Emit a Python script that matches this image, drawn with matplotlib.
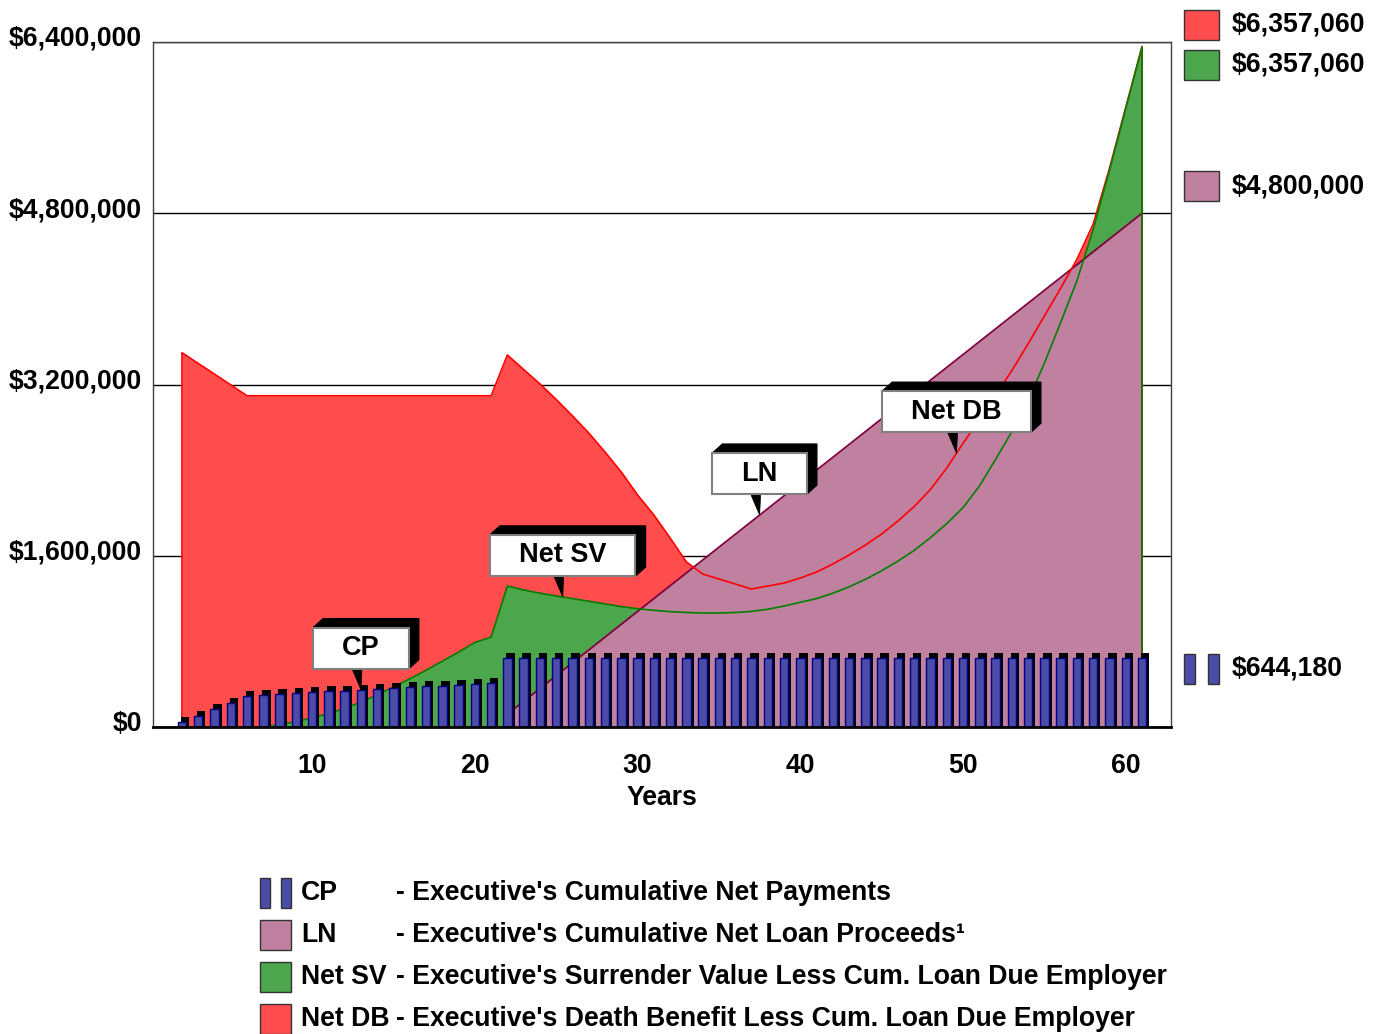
import matplotlib
matplotlib.use('Agg')
from matplotlib import pyplot as plt
from matplotlib import transforms
from matplotlib.patches import Polygon, Rectangle
import numpy as np

plt.rcParams['font.family'] = ['Liberation Sans', 'DejaVu Sans']
plt.rcParams['font.weight'] = 'bold'

# policy years shown on the chart
years = list(range(2, 62))

# CP - cumulative net payments
cum_payments = [45000, 106000, 167000, 228000, 290000, 299000, 308000, 318000, 324000, 334000,
                339000, 349000, 355000, 364000, 374000, 380000, 386000, 395000, 402000, 411000] + [644180] * 40

# LN - cumulative net loan proceeds (years 22-61)
loan_years = list(range(22, 62))
net_loan = [120000, 240000, 360000, 480000, 600000, 720000, 840000, 960000, 1080000, 1200000,
            1320000, 1440000, 1560000, 1680000, 1800000, 1920000, 2040000, 2160000, 2280000, 2400000,
            2520000, 2640000, 2760000, 2880000, 3000000, 3120000, 3240000, 3360000, 3480000, 3600000,
            3720000, 3840000, 3960000, 4080000, 4200000, 4320000, 4440000, 4560000, 4680000, 4800000]

# Net SV - surrender value less cumulative loan (years 7-61)
sv_years = list(range(7, 62))
net_sv = [0, 22000, 50000, 85000, 125000, 175000, 232000, 300000, 375000, 450000,
          530000, 615000, 700000, 790000, 840000,
          1317000, 1280000, 1250000, 1225000, 1200000, 1175000, 1150000, 1125000, 1105000, 1090000,
          1078000, 1070000, 1065000, 1065000, 1070000, 1080000, 1100000, 1130000, 1165000, 1200000,
          1250000, 1310000, 1380000, 1460000, 1550000, 1650000, 1770000, 1900000, 2050000, 2250000,
          2500000, 2760000, 3050000, 3400000, 3780000, 4170000, 4650000, 5200000, 5780000, 6357060]

# Net DB - death benefit less cumulative loan (years 2-61)
net_db = [3497000, 3397000, 3297000, 3196000, 3095000, 3095000, 3095000, 3095000, 3095000, 3095000,
          3095000, 3095000, 3095000, 3095000, 3095000, 3095000, 3095000, 3095000, 3095000, 3095000,
          3476000, 3340000, 3205000, 3060000, 2906000, 2747000, 2569000, 2382000, 2168000, 1981000,
          1766000, 1542000, 1429000, 1383000, 1336000, 1289000, 1317000, 1345000, 1392000, 1448000,
          1523000, 1607000, 1700000, 1803000, 1925000, 2060000, 2220000, 2420000, 2650000, 2870000,
          3100000, 3330000, 3580000, 3840000, 4100000, 4370000, 4700000, 5220000, 5790000, 6357060]

y_ticks = [0, 1600000, 3200000, 4800000, 6400000]
x_ticks = [10, 20, 30, 40, 50, 60]

W, H = 1383, 1034
FS = 19.2
RED, RED_LINE = '#FF4D4D', '#FF0000'
GREEN, GREEN_LINE = '#4CA64C', '#008000'
PINK, PINK_LINE = '#C080A0', '#800040'
BLUE, BLUE_EDGE = '#4B4BA8', '#000080'


def px(x, y):
    return x / W, 1 - y / H


fig = plt.figure(figsize=(W / 100, H / 100), dpi=100)
ax = fig.add_axes([153 / W, 1 - 727 / H, (1171 - 153) / W, (727 - 42) / H])
ax.set_xlim(0.22, 62.78)
ax.set_ylim(0, 6400000)

ax.yaxis.grid(True, color='black', lw=1)
ax.set_axisbelow(True)

# stacked areas: death benefit, surrender value, loan
ax.fill_between(years, net_db, color=RED, lw=0, zorder=2)
ax.fill_between(sv_years, net_sv, color=GREEN, lw=0, zorder=3)
ax.fill_between(loan_years, net_loan, color=PINK, lw=0, zorder=4)
ax.plot([loan_years[0]] + loan_years + [loan_years[-1]], [0] + net_loan + [0],
        color=PINK_LINE, lw=1.3, zorder=4.5)
ax.plot([years[0]] + years + [years[-1]], [0] + net_db + [0], color=RED_LINE, lw=1.2, zorder=5)
ax.plot(sv_years + [sv_years[-1]], net_sv + [0], color=GREEN_LINE, lw=1.2, zorder=5)

# 3-D style payment bars: black block shifted up/right behind each bar
shadow_tr = transforms.offset_copy(ax.transData, fig=fig, x=3, y=5, units='dots')
ax.bar(years, [v + 100000 for v in cum_payments], bottom=-100000, width=0.52,
       color='black', lw=0, transform=shadow_tr, zorder=6)
ax.bar(years, cum_payments, width=0.52, color=BLUE, edgecolor=BLUE_EDGE, lw=1, zorder=6.1)

ax.set_yticks(y_ticks)
ax.set_yticklabels(['${:,}'.format(v) for v in y_ticks], fontsize=FS)
ax.set_xticks(x_ticks)
ax.set_xticklabels([str(v) for v in x_ticks], fontsize=FS)
ax.tick_params(length=0)
ax.tick_params(axis='y', pad=8)
ax.tick_params(axis='x', pad=19)
lift = transforms.ScaledTranslation(0, 6 / 100, fig.dpi_scale_trans)
for lab in ax.get_yticklabels():
    lab.set_transform(lab.get_transform() + lift)
ax.set_xlabel('Years', fontsize=FS, fontweight='bold', labelpad=4)

for side in ['left', 'top', 'right']:
    ax.spines[side].set_color('#404040')
    ax.spines[side].set_linewidth(1)
ax.spines['bottom'].set_linewidth(2)
ax.spines['bottom'].set_zorder(8)

# callout labels
renderer = fig.canvas.get_renderer()
ident = transforms.IdentityTransform()


def callout(x, y, label):
    axx, axy = ax.transData.transform((x, y))
    t = fig.text(0, 0, label, fontsize=19.5, ha='center', va='center', transform=ident, zorder=12)
    tw = t.get_window_extent(renderer).width
    L, R = axx - tw / 2 - 29, axx + tw / 2 + 29
    B = axy + 21
    T = B + 41
    dx, dy = 10, 9
    fig.add_artist(Polygon([(L, T), (L + dx, T + dy), (R + dx, T + dy), (R + dx, B + dy), (R, B), (L, B)],
                           closed=True, facecolor='black', edgecolor='black', transform=ident, zorder=10))
    fig.add_artist(Rectangle((L, B), R - L, T - B, facecolor='white', edgecolor='#808080', lw=1.5,
                             transform=ident, zorder=11))
    fig.add_artist(Polygon([(axx - 9, B), (axx + 1, B), (axx, axy)], closed=True,
                           facecolor='black', edgecolor='black', lw=0.5, transform=ident, zorder=10))
    t.set_position((axx, (B + T) / 2))


callout(13, cum_payments[years.index(13)], 'CP')
callout(25.4, np.interp(25.4, sv_years, net_sv), 'Net SV')
callout(37.5, np.interp(37.5, loan_years, net_loan), 'LN')
callout(49.6, np.interp(49.6, years, net_db), 'Net DB')


def swatch(x0, y0, x1, y1, color):
    fx0, fy0 = px(x0, y1)
    fx1, fy1 = px(x1, y0)
    fig.add_artist(Rectangle((fx0, fy0), fx1 - fx0, fy1 - fy0, transform=fig.transFigure,
                             facecolor=color, edgecolor='#333333', lw=1))


# end values beside the plot
right_items = [(25, RED, '${:,}'.format(net_db[-1])),
               (65, GREEN, '${:,}'.format(net_sv[-1])),
               (186, PINK, '${:,}'.format(net_loan[-1]))]
for yc, col, txt in right_items:
    swatch(1184, yc - 15, 1219, yc + 15, col)
    fig.text(*px(1232, yc), txt, fontsize=FS, va='center', ha='left')
swatch(1184, 654, 1195, 684, BLUE)
swatch(1208, 654, 1219, 684, BLUE)
fig.text(*px(1232, 669), '${:,}'.format(cum_payments[-1]), fontsize=FS, va='center', ha='left')

# legend below the plot
legend_rows = [('CP', "- Executive's Cumulative Net Payments", None),
               ('LN', "- Executive's Cumulative Net Loan Proceeds\u00b9", PINK),
               ('Net SV', "- Executive's Surrender Value Less Cum. Loan Due Employer", GREEN),
               ('Net DB', "- Executive's Death Benefit Less Cum. Loan Due Employer", RED)]
for i, (name, desc, col) in enumerate(legend_rows):
    yc = 893 + 42 * i
    if col is None:
        swatch(260, yc - 15, 270, yc + 15, BLUE)
        swatch(281, yc - 15, 291, yc + 15, BLUE)
    else:
        swatch(260, yc - 15, 291, yc + 15, col)
    fig.text(*px(301, yc), name, fontsize=FS, va='center', ha='left')
    fig.text(*px(396, yc), desc, fontsize=FS, va='center', ha='left')

fig.savefig('out.png', dpi=100)
